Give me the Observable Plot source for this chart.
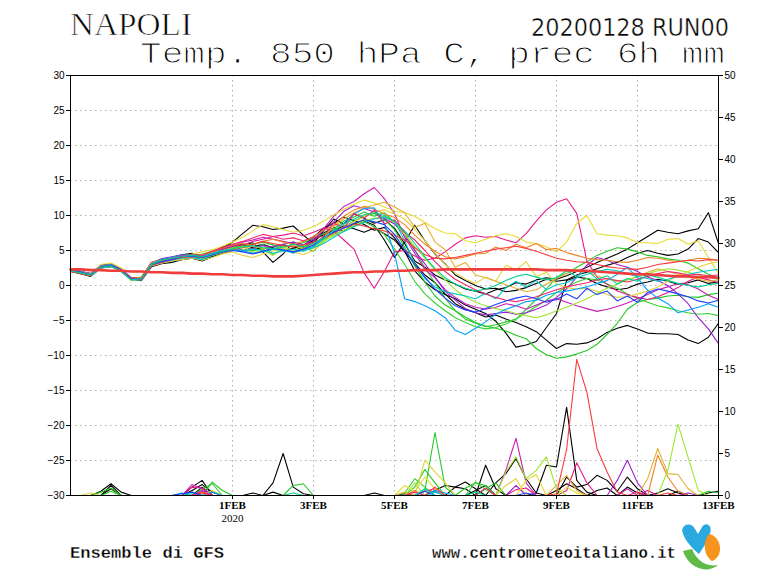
<!DOCTYPE html>
<html><head><meta charset="utf-8">
<script src="https://cdn.jsdelivr.net/npm/d3@7"></script>
<script src="https://cdn.jsdelivr.net/npm/@observablehq/plot@0.6"></script>
<style>
html,body{margin:0;padding:0;background:#fff;}
#wrap{position:relative;width:768px;height:576px;background:#fff;overflow:hidden;}
#chart{position:absolute;left:0;top:0;}
#deco{position:absolute;left:0;top:0;pointer-events:none;}
</style></head>
<body>
<div id="wrap"><div id="chart"></div>
<svg id="deco" width="768" height="576">
  <text x="70" y="35" font-family="Liberation Serif, serif" font-size="32" textLength="122" lengthAdjust="spacingAndGlyphs" stroke="#fff" stroke-width="0.7">NAPOLI</text>
  <text x="531" y="36" font-family="Liberation Sans Narrow, DejaVu Sans Condensed, sans-serif" font-size="24" textLength="198" lengthAdjust="spacingAndGlyphs" stroke="#fff" stroke-width="0.4">20200128 RUN00</text>
  <text x="140" y="63" font-family="Liberation Mono, Courier New, monospace" font-size="29" textLength="585" lengthAdjust="spacingAndGlyphs" stroke="#fff" stroke-width="1.1">Temp. 850 hPa C, prec 6h mm</text>
  <text x="70" y="558" font-family="Liberation Mono, monospace" font-weight="bold" font-size="17" textLength="154" lengthAdjust="spacingAndGlyphs" stroke="#fff" stroke-width="0.3">Ensemble di GFS</text>
  <text x="432" y="558" font-family="Liberation Mono, monospace" font-weight="bold" font-size="17" textLength="244" lengthAdjust="spacingAndGlyphs" stroke="#fff" stroke-width="0.3">www.centrometeoitaliano.it</text>
  <path d="M682,530 C684,523 692,523 695,529 L698,534 L702,527 C706,521 713,526 710,533 C708,541 703,548 699,554 C692,548 684,540 682,530 Z" fill="#2aa9e0"/>
  <path d="M709,534 C721,536 725,556 712,561 C704,556 702,542 709,534 Z" fill="#f7941d"/>
  <path d="M683,551 C688,567 706,575 718,565 C706,567 697,561 692,549 Z" fill="#5fba47"/>
</svg></div>
<script>
// ---- data ----
const xTickIdx = [16, 24, 32, 40, 48, 56, 64];
const xTickLabels = ["1FEB", "3FEB", "5FEB", "7FEB", "9FEB", "11FEB", "13FEB"];
const yearLabel = ["2020"];
const tempTicks = [-30, -25, -20, -15, -10, -5, 0, 5, 10, 15, 20, 25, 30];
const precTicks = [0, 5, 10, 15, 20, 25, 30, 35, 40, 45, 50];

const memberColors = ["#000000","#000000","#000000","#000000","#1ec81e","#28c828","#32d232",
  "#e6198c","#c81eb4","#9b1ed2","#e6dc32","#e6d23c","#e6af2d","#f08228","#a0e632",
  "#00a0ff","#00c8c8","#fa3c3c","#f0286e","#1e3cff","#00d28c"];

const tM01 = [2.1,1.8,1.4,2.6,2.9,2.0,0.8,1.0,3.0,3.4,3.7,4.2,4.4,4.0,4.6,5.3,6.2,
  7.4,8.6,8.4,8.0,8.2,8.5,7.2,6.0, 7.8,9.5,8.8,10.2,9.6,8.9,9.4,8.2,
  6.0,3.5,2.6,1.5,0.8,0.2,-0.5,-0.8, -1.2,-0.6,-0.3,0.4,0.2,0.8,1.1,0.9,
  1.4,2.0,2.6,3.3,3.9,4.5,5.2,6.1, 7.0,7.9,7.6,7.4,7.8,8.1,10.4,6.0];
const tM02 = [2.3,1.9,1.6,2.8,3.0,2.3,1.1,0.9,2.8,3.5,3.9,4.3,4.1,3.6,4.2,4.9,5.6,
  5.9,5.4,5.2,5.6,5.8,5.5,5.1,6.4, 7.5,8.3,7.8,8.8,9.2,8.6,6.5,4.0,
  6.2,8.6,6.4,4.5,3.1,1.5,0.7,0.0, -0.5,-0.4,-0.9,-0.7,-0.3,0.3,0.9,0.6,
  0.8,1.5,1.9,2.4,2.9,3.3,4.0,4.6, 5.0,4.6,4.3,4.5,5.2,6.7,6.2,4.7];
const tM03 = [2.0,1.7,1.3,2.5,2.7,2.1,0.9,0.7,2.7,3.1,3.3,3.7,3.9,3.5,4.1,4.6,5.0,
  5.8,6.1,4.8,3.3,4.5,6.2,5.4,6.6, 7.2,7.9,8.5,8.1,7.6,8.2,7.4,6.5,
  4.8,3.2,1.5,0.4,-1.2,-2.6,-3.4,-3.9, -4.5,-4.2,-4.8,-5.3,-5.9,-6.6,-7.8,-9.0,
  -8.3,-8.4,-8.2,-7.6,-6.7,-6.1,-5.7,-6.2, -6.8,-6.9,-6.9,-7.0,-7.8,-8.3,-7.4,-5.4];
const tM04 = [2.4,2.0,1.7,2.9,3.1,2.4,1.0,1.1,3.3,3.8,4.0,4.4,4.6,4.2,4.8,5.5,5.9,
  5.7,5.5,5.9,5.4,5.0,5.3,5.7,6.9, 8.2,8.9,9.8,9.3,8.7,7.9,8.3,6.8,
  4.9,2.1,0.5,-0.6,-1.3,-1.9,-2.8,-3.4, -4.0,-5.1,-6.8,-8.8,-8.5,-8.0,-6.0,-4.0,
  0.7,1.2,1.0,0.3,-0.2,-0.6,-0.4,0.2, 0.5,0.9,0.6,0.2,0.4,0.8,0.3,0.5];
const tM05 = [2.2,1.8,1.6,2.6,2.8,2.2,1.0,0.9,3.0,3.5,3.8,4.0,4.2,3.9,4.5,5.0,5.3,
  5.7,5.0,5.9,4.4,5.3,4.6,5.5,4.9, 6.3,7.7,8.4,9.2,9.9,10.3,9.5,8.0,
  5.5,2.8,0.5,-1.5,-2.8,-3.6,-4.5,-5.3, -5.8,-6.1,-6.5,-7.1,-7.6,-9.0,-9.9,-10.4,
  -10.2,-9.8,-9.3,-8.4,-7.0,-5.4,-3.4,-2.4, -2.0,-1.8,-1.5,-1.4,-1.6,-1.7,-1.3,-1.1];
const tM06 = [2.1,1.9,1.5,2.7,3.0,2.3,0.8,1.0,3.1,3.7,3.9,4.3,4.4,4.1,4.7,5.1,5.5,
  5.6,5.9,6.2,5.8,5.5,5.8,6.1,6.8, 7.4,8.1,9.2,9.8,10.5,9.9,10.4,9.0,
  7.6,5.1,2.5,0.4,-1.8,-3.6,-4.8,-5.4, -5.9,-5.6,-5.2,-4.8,-3.4,-2.0,-0.5,1.2,
  1.7,2.6,3.4,4.3,4.9,5.4,5.2,4.8, 4.3,4.1,3.8,3.6,3.2,2.4,1.6,1.1];
const tM07 = [2.3,2.0,1.6,2.8,2.9,2.1,0.9,1.2,3.2,3.6,3.8,4.1,4.3,4.5,4.9,5.1,5.4,
  5.1,4.9,5.3,5.6,5.2,4.8,5.0,5.5, 6.6,7.3,7.9,8.5,9.1,8.4,7.3,5.2,
  3.0,0.6,-1.2,-2.5,-3.6,-4.6,-5.3,-5.9, -6.2,-6.0,-5.5,-4.8,-3.9,-3.0,-2.1,-1.0,
  -0.2,0.5,1.0,0.8,0.2,-0.4,-1.2,-1.9, -2.4,-2.9,-3.2,-3.6,-3.9,-4.1,-4.0,-4.3];
const tM08 = [2.2,1.9,1.5,2.7,3.0,2.2,0.9,1.1,3.0,3.5,3.9,4.2,4.3,4.2,4.9,5.3,5.6,
  5.8,6.3,6.6,7.0,7.2,7.5,7.1,7.6, 8.2,7.8,6.5,5.2,1.8,-0.4,2.0,4.8,
  5.0,4.2,3.6,3.9,4.8,5.9,6.8,7.1, 6.9,7.0,6.5,6.1,7.4,9.2,10.8,11.9,
  12.4,10.3,3.5,1.2,0.2,-0.8,-1.3,-1.7, -2.0,-1.6,-1.0,-0.3,0.6,1.2,0.8,0.4];
const tM09 = [2.2,1.9,1.5,2.7,2.9,2.2,0.9,1.0,3.0,3.5,3.8,4.0,4.2,3.9,4.6,5.1,5.7,
  6.2,6.5,6.9,6.6,6.3,6.0,5.6,6.3, 8.1,9.9,11.3,12.0,13.1,14.0,12.4,10.3,
  6.9,4.6,2.3,1.1,-0.6,-1.7,-2.6,-3.1, -3.4,-3.1,-2.6,-2.9,-3.4,-2.8,-2.2,-1.9,
  -2.4,-2.9,-3.3,-3.7,-3.4,-3.0,-2.5,-1.9, -1.3,-0.6,-0.2,0.3,0.1,-0.5,-1.4,-2.0];
const tM10 = [2.3,2.0,1.7,2.9,3.0,2.4,1.1,1.1,3.2,3.8,4.1,4.4,4.3,4.0,4.5,4.9,5.2,
  5.0,5.3,5.7,5.5,5.9,6.2,5.8,6.6, 7.8,9.1,10.6,11.4,11.0,10.5,9.6,8.8,
  7.2,5.0,3.1,1.2,-0.8,-2.1,-3.3,-3.9, -4.2,-4.0,-3.8,-4.1,-3.9,-3.4,-2.8,-1.7,
  -0.5,1.2,2.9,4.0,3.6,3.0,2.6,2.0, 1.2,0.7,0.0,-1.2,-2.6,-4.6,-6.2,-8.3];
const tM11 = [2.3,1.9,1.6,3.0,3.2,2.5,1.0,0.8,2.9,3.4,3.6,3.9,4.5,4.8,5.1,5.6,6.2,
  6.9,7.8,8.7,8.4,8.0,7.6,7.9,8.4, 9.2,10.1,10.9,11.6,12.2,11.8,11.2,10.6,
  10.4,9.9,9.0,8.1,7.5,7.4,6.4,6.1, 6.6,7.1,7.4,7.0,6.2,6.0,5.5,4.8,
  6.2,8.9,10.0,7.4,7.2,7.1,6.8,6.1, 6.1,6.0,6.6,6.7,5.9,6.4,4.0,1.7];
const tM12 = [2.1,1.8,1.4,2.5,2.8,2.0,0.7,0.9,2.8,3.2,3.5,3.7,3.9,3.6,4.0,4.5,4.8,
  4.3,4.0,4.5,4.9,5.3,4.8,4.4,5.0, 6.2,7.5,8.3,9.1,9.8,10.5,10.8,10.2,
  9.5,8.0,6.4,4.6,3.0,1.8,0.9,0.3, 1.2,0.6,2.9,2.2,3.4,1.3,1.9,0.2,
  -0.3,-0.5,-0.4,-0.8,-1.3,-1.7,-1.6,-1.2, -0.8,-0.2,0.6,1.4,2.0,2.6,3.1,3.4];
const tM13 = [2.2,1.9,1.5,2.6,2.9,2.2,0.9,1.1,3.1,3.6,4.0,4.2,4.0,4.2,4.7,5.0,5.3,
  5.4,5.6,5.3,5.1,5.4,5.7,5.3,5.9, 7.0,8.4,9.5,10.4,11.1,11.5,11.9,11.2,
  10.4,8.3,8.9,6.2,5.1,2.6,3.3,1.5, 1.1,0.6,0.1,-0.4,-0.9,-0.6,0.2,1.0,
  1.7,2.3,2.0,1.4,0.9,0.6,0.8,1.3, 1.9,2.4,2.0,1.6,1.2,0.9,0.6,0.8];
const tM14 = [2.4,2.0,1.7,2.8,3.0,2.3,1.0,1.2,3.3,3.7,3.9,4.1,4.2,4.4,4.9,5.4,5.8,
  6.0,5.8,6.3,6.6,6.2,5.9,6.3,7.0, 7.9,8.6,9.9,10.8,11.3,10.9,10.2,9.7,
  8.7,7.2,5.9,4.9,4.1,3.8,4.1,4.5, 4.6,5.5,5.0,5.9,5.4,6.0,5.1,5.3,
  4.7,4.3,3.9,3.7,3.6,3.4,3.3,3.6, 4.0,3.9,3.6,3.4,3.6,3.9,3.8,3.6];
const tM15 = [2.2,1.8,1.5,2.7,2.8,2.1,0.9,1.0,3.0,3.4,3.7,4.0,4.1,3.8,4.3,4.7,5.0,
  5.6,4.6,5.1,4.3,5.5,5.0,5.8,5.3, 6.4,7.1,7.9,8.6,9.3,9.6,9.9,9.0,
  7.3,5.6,3.9,2.2,0.8,-0.6,-1.6,-2.4, -2.9,-3.3,-3.6,-4.0,-4.3,-4.6,-4.2,-3.6,
  -3.1,-2.5,-1.9,-1.1,-0.4,0.2,0.8,1.3, 1.7,2.1,2.4,2.2,1.9,1.5,1.2,0.9];
const tM16 = [2.3,2.0,1.6,2.8,3.0,2.3,1.0,0.9,3.1,3.7,4.0,4.3,4.4,4.2,4.6,5.0,5.2,
  5.0,4.6,4.8,5.2,5.0,4.7,5.1,5.6, 6.7,7.8,8.9,10.2,11.0,11.1,8.9,4.6,
  -1.9,-2.3,-2.9,-3.6,-4.6,-6.4,-7.0,-6.1, -5.2,-4.1,-3.4,-2.9,-2.3,-2.1,-1.4,-1.0,
  -0.8,-0.5,-0.2,0.3,0.7,1.6,2.6,1.1, -0.7,-1.8,-2.6,-3.9,-3.5,-3.1,-2.6,-3.1];
const tM17 = [2.1,1.8,1.4,2.5,2.7,2.0,0.8,0.8,2.9,3.3,3.6,3.9,4.0,3.7,4.3,4.8,5.1,
  4.9,5.2,5.0,4.6,4.9,5.2,4.9,5.4, 6.0,6.9,7.7,8.4,9.0,9.5,9.8,9.2,
  6.4,3.1,1.0,-0.2,-0.9,-1.2,-1.5,-1.9, -1.1,-1.9,-0.3,0.6,-0.2,0.7,-0.6,0.1,
  0.4,1.1,1.6,2.0,2.3,2.1,1.7,1.3, 1.0,0.6,0.9,1.3,1.6,1.9,2.1,2.3];
const tM18 = [2.0,1.7,1.4,2.6,2.8,2.1,0.9,1.0,2.9,3.3,3.7,4.0,4.1,4.0,4.4,4.8,5.1,
  5.4,5.9,6.3,6.0,5.7,5.5,5.8,6.1, 6.8,7.5,8.2,8.8,8.5,8.1,7.8,7.2,
  6.5,5.4,4.4,3.9,3.8,4.0,4.3,4.6, 4.9,5.2,5.4,5.6,5.3,4.9,4.4,3.9,
  3.6,3.4,3.3,3.0,2.7,2.5,2.4,2.3, 2.6,3.0,3.2,3.4,3.6,3.5,3.7,3.6];
const tM19 = [2.3,1.9,1.5,2.7,2.9,2.3,1.0,0.9,2.9,3.5,3.9,4.2,4.4,4.3,4.9,5.4,5.9,
  6.3,6.8,7.3,7.0,6.6,6.8,6.4,6.9, 7.0,8.9,8.2,10.3,9.6,10.8,8.8,9.4,
  7.6,6.5,5.0,3.4,2.0,0.9,0.1,-0.6, -1.2,-1.7,-2.1,-2.3,-2.0,-1.6,-1.1,-0.6,
  -0.2,0.1,0.4,0.8,1.0,0.7,0.5,0.9, 1.3,1.7,2.0,1.8,1.5,1.6,1.4,1.5];
const tM20 = [2.2,1.9,1.5,2.6,2.9,2.2,0.9,1.0,3.0,3.4,3.7,4.1,4.2,4.0,4.4,4.8,5.0,
  4.8,4.5,4.9,5.3,5.1,4.8,5.2,5.8, 6.9,7.6,8.2,8.9,9.4,9.1,8.7,7.3,
  5.1,3.0,1.2,-0.5,-1.8,-2.9,-3.5,-3.8, -3.3,-2.7,-2.2,-1.8,-1.5,-1.9,-2.4,-2.0,
  -1.2,-1.9,-0.4,-1.3,-0.8,-2.2,-1.5,-2.4, -1.0,-0.5,-0.8,-1.2,-1.6,-2.2,-2.5,-2.1];
const tM21 = [2.1,1.8,1.5,2.6,2.8,2.1,0.8,1.0,3.0,3.6,3.9,4.1,4.3,4.1,4.5,4.9,5.2,
  5.5,5.7,5.4,5.2,5.5,5.9,5.5,6.0, 6.8,7.9,8.8,9.5,10.1,10.4,10.0,9.1,
  7.8,6.0,4.1,2.4,1.1,0.2,-0.4,-0.8, -0.5,0.0,0.7,1.3,1.6,1.2,0.8,1.1,
  2.1,1.3,2.2,0.9,1.4,0.2,1.0,0.6, 1.5,1.2,0.7,0.3,0.0,-0.2,0.1,0.3];

const tClim = [2.3,2.3,2.2,2.2,2.1,2.1,2.0,2.0,1.9,1.9,1.8,1.8,1.7,1.7,1.6,1.6,1.5,
  1.5,1.4,1.4,1.3,1.3,1.3,1.4,1.5, 1.6,1.7,1.8,1.9,1.9,2.0,2.0,2.1,
  2.1,2.2,2.2,2.2,2.3,2.3,2.3,2.3, 2.3,2.3,2.3,2.3,2.3,2.3,2.2,2.2,
  2.2,2.1,2.1,2.0,1.9,1.8,1.7,1.6, 1.6,1.5,1.4,1.3,1.3,1.2,1.2,1.1];

// precipitation (mm per 6h) : [step, value] pairs, zero elsewhere
const pM01 = [[3,0.5],[4,1.4],[5,0.4],[12,0.6],[13,1.3],[14,0.4],[20,1.5],[21,5.0],[22,1.0],[23,0.2],[41,3.6],[42,0.8],[46,0.3],[47,3.6],[48,3.4],[49,10.5],[50,1.8],[51,0.4],[63,0.3],[64,0.5]];
const pM02 = [[4,0.8],[13,1.0],[18,0.3],[36,0.6],[37,1.2],[38,1.0],[39,0.8],[42,1.5],[43,2.6],[44,4.4],[45,2.0],[46,0.3],[49,2.2],[50,1.0],[51,1.3],[52,2.4],[53,1.8],[54,0.5],[55,2.2],[56,0.8],[60,0.5]];
const pM03 = [[12,1.0],[13,1.8],[30,0.3],[38,1.0],[39,1.6],[40,0.8],[48,0.6],[49,1.4],[50,0.8],[55,1.0],[56,0.3]];
const pM04 = [[4,1.2],[20,0.4],[33,0.2],[40,0.6],[41,1.2],[52,0.6],[53,0.9],[58,0.3],[59,0.8],[60,0.3]];
const pM05 = [[3,0.4],[4,0.9],[14,1.6],[15,0.6],[22,1.2],[23,1.4],[34,1.0],[35,3.1],[36,1.5],[41,0.8],[42,1.5]];
const pM06 = [[4,0.5],[13,0.8],[14,1.4],[35,0.6],[36,7.5],[37,1.0],[39,0.9],[40,1.5],[41,1.2],[63,0.5],[64,0.3]];
const pM07 = [[12,0.4],[33,0.3],[34,2.0],[35,1.0],[40,1.6],[41,0.7]];
const pM08 = [[12,1.0],[13,0.9],[35,0.5],[36,0.8],[44,0.7],[45,0.9],[49,0.6],[50,3.9],[51,1.5],[57,0.6]];
const pM09 = [[12,1.3],[13,0.8],[36,0.5],[43,3.0],[44,6.8],[45,1.5],[55,0.8]];
const pM10 = [[13,0.6],[44,1.2],[54,1.8],[55,4.2],[56,1.5],[61,0.3]];
const pM11 = [[14,0.6],[33,1.2],[34,0.5],[35,2.2],[36,0.8],[45,1.8],[46,2.5],[49,1.0],[50,0.3]];
const pM12 = [[2,0.3],[35,4.2],[36,2.8],[37,1.5],[43,1.2],[44,2.0]];
const pM13 = [[33,0.4],[48,1.2],[49,2.4],[50,0.6],[57,2.0],[58,5.6],[59,2.6],[60,2.5],[61,0.8]];
const pM14 = [[13,0.4],[34,0.6],[58,4.8],[59,2.2],[60,0.5]];
const pM15 = [[34,1.5],[43,2.8],[44,4.6],[45,2.0],[46,3.0],[47,4.6],[48,0.8],[59,3.0],[60,8.5],[61,4.5],[62,0.6]];
const pM16 = [[11,0.3],[14,0.4],[36,0.6],[37,0.3]];
const pM17 = [[12,0.2],[36,0.4]];
const pM18 = [[13,0.3],[36,1.0],[48,0.2],[49,5.5],[50,16.2],[51,12.3],[52,5.6],[53,2.8],[54,0.4],[59,0.3]];
const pM19 = [[13,0.5],[34,0.4],[41,0.9],[56,0.4]];
const pM20 = [[11,0.2],[12,0.4],[35,0.5],[45,0.3]];
const pM21 = [[22,0.3],[35,0.8],[40,0.4]];

// ---- build tables ----
const tempList = [tM01,tM02,tM03,tM04,tM05,tM06,tM07,tM08,tM09,tM10,tM11,tM12,tM13,tM14,tM15,tM16,tM17,tM18,tM19,tM20,tM21];
const precList = [pM01,pM02,pM03,pM04,pM05,pM06,pM07,pM08,pM09,pM10,pM11,pM12,pM13,pM14,pM15,pM16,pM17,pM18,pM19,pM20,pM21];
const nSteps = 65;
const tempRows = [];
tempList.forEach((arr, m) => arr.forEach((t, i) => tempRows.push({m, i, t, c: memberColors[m]})));
const precRows = [];
precList.forEach((pairs, m) => {
  const full = new Array(nSteps).fill(0);
  pairs.forEach(([i, v]) => { full[i] = v; });
  full.forEach((p, i) => precRows.push({m, i, p, c: memberColors[m]}));
});
const climRows = tClim.map((t, i) => ({i, t}));
const precToTemp = p => -30 + p * 60 / 50;

const font = "Liberation Sans, Arial, sans-serif";
const chart = Plot.plot({
  width: 768, height: 576,
  marginTop: 75, marginBottom: 81, marginLeft: 70, marginRight: 50,
  style: {fontFamily: font, fontSize: "10px", background: "#fff", overflow: "visible"},
  x: {domain: [0, 64], axis: null},
  y: {domain: [-30, 30], axis: null},
  color: {type: "identity"},
  marks: [
    Plot.gridY(tempTicks.slice(1, -1), {stroke: "#9a9a9a", strokeOpacity: 1, strokeWidth: 0.8, strokeDasharray: "1.5,3.5"}),
    Plot.gridX(xTickIdx.slice(0, -1), {stroke: "#9a9a9a", strokeOpacity: 1, strokeWidth: 0.8, strokeDasharray: "1.5,3.5"}),
    Plot.line(precRows, {x: "i", y: d => precToTemp(d.p), z: "m", stroke: "c", strokeWidth: 1.1}),
    Plot.line(tempRows, {x: "i", y: "t", z: "m", stroke: "c", strokeWidth: 1.1}),
    Plot.line(climRows, {x: "i", y: "t", stroke: "#f03c3c", strokeWidth: 2.6}),
    Plot.frame({stroke: "#000", strokeWidth: 1}),
    Plot.axisY(tempTicks, {anchor: "left", tickSize: 4, tickPadding: 2, fontSize: 10, label: null}),
    Plot.axisY(precTicks.map(precToTemp), {anchor: "right", tickSize: 4, tickPadding: 2, fontSize: 10, label: null,
      tickFormat: t => String(Math.round((t + 30) * 50 / 60))}),
    Plot.axisX(xTickIdx, {anchor: "bottom", tickSize: 4, tickPadding: 2, label: null,
      fontFamily: "Liberation Serif, serif", fontWeight: "bold", fontSize: 11,
      tickFormat: (d) => xTickLabels[xTickIdx.indexOf(d)]}),
    Plot.text(yearLabel, {x: () => xTickIdx[0], y: () => -30, text: d => d, dy: 23,
      fontFamily: "Liberation Serif, serif", fontSize: 11, fill: "#000"})
  ]
});
document.getElementById("chart").appendChild(chart);
</script>
</body></html>
